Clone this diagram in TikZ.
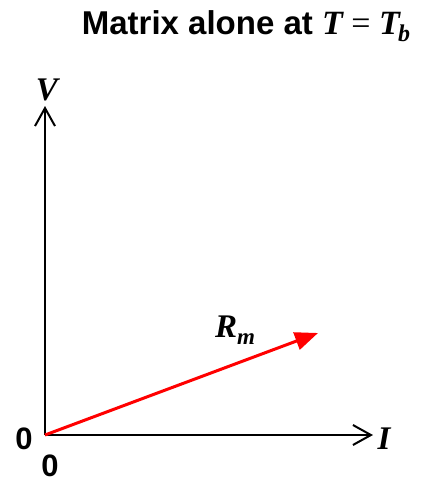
\documentclass[tikz,border=0pt]{standalone}
\usepackage{fontspec}
\setmainfont{Liberation Sans}
\newfontfamily\timesf{Liberation Serif}
\usetikzlibrary{arrows.meta}
\begin{document}
\begin{tikzpicture}[x=1pt,y=-1pt]
\tikzset{
  axis/.style={line width=2pt, -{Straight Barb[length=18pt,width=20pt]}},
  vec/.style={red, line width=3pt, -{Triangle[length=23pt,width=18pt]}},
  varlab/.style={font=\timesf\bfseries\itshape\fontsize{33}{33}\selectfont, inner sep=0pt},
  numlab/.style={font=\bfseries\fontsize{31}{31}\selectfont, inner sep=0pt},
}
\useasboundingbox (0,0) rectangle (435,482);
\coordinate (O) at (45,435);
\coordinate (Vt) at (45,106);
\coordinate (It) at (373,435);
\coordinate (Rt) at (318,333);
\draw[axis] (O) -- (Vt);
\draw[axis] (O) -- (It);
\draw[vec] (O) -- (Rt);
\node[inner sep=0pt, anchor=base] (title) at (246,34) {\bfseries\fontsize{33}{33}\selectfont Matrix alone at {\timesf\itshape\fontsize{34}{34}\selectfont T {\mdseries\upshape=} T\kern-0.05em\raisebox{-0.22em}{\fontsize{24}{24}\selectfont b}}};
\node[varlab] (V) at (47,90) {V};
\node[varlab] (I) at (384,439) {I};
\node[varlab, anchor=base west] (R) at (215,337) {R\raisebox{-0.22em}{\fontsize{23}{23}\selectfont m}};
\node[numlab] (z1) at (24,439) {0};
\node[numlab] (z2) at (50,466) {0};
\end{tikzpicture}
\end{document}
